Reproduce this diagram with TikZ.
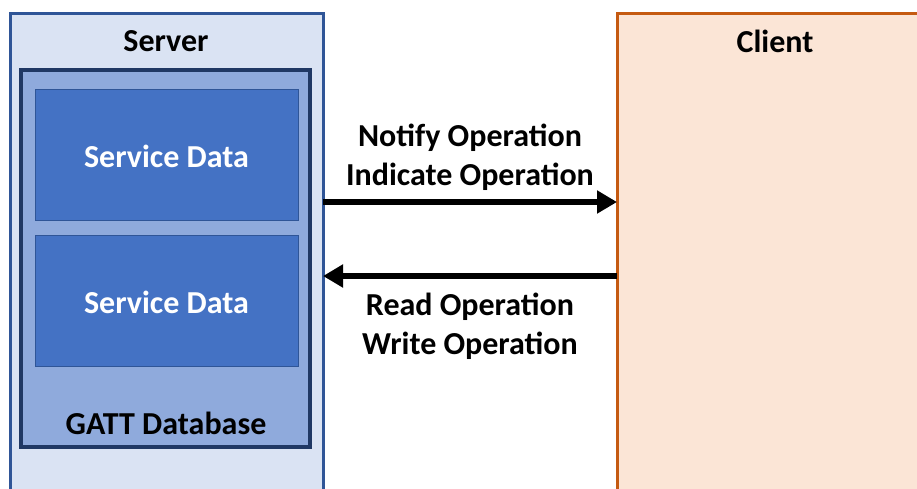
\documentclass[tikz,border=0pt]{standalone}
\usepackage{fontspec}
\setmainfont{Carlito}
\usepackage{xcolor}
\usetikzlibrary{positioning,arrows.meta}
\definecolor{srvfill}{HTML}{DAE3F3}
\definecolor{srvline}{HTML}{2F5597}
\definecolor{dbfill}{HTML}{8FAADC}
\definecolor{dbline}{HTML}{203864}
\definecolor{svcfill}{HTML}{4472C4}
\definecolor{clifill}{HTML}{FBE5D6}
\definecolor{cliline}{HTML}{C55A11}

\begin{document}
\begin{tikzpicture}[x=1pt,y=-1pt,font=\fontsize{32}{39}\selectfont\bfseries,
  box/.style={draw,anchor=north west,inner sep=0pt,outer sep=0pt},
  srv/.style={box,fill=srvfill,draw=srvline,line width=3pt},
  db/.style={box,fill=dbfill,draw=dbline,line width=3.5pt},
  svc/.style={box,fill=svcfill,draw=srvline,line width=1pt,text=white},
  cli/.style={box,fill=clifill,draw=cliline,line width=3pt},
  lbl/.style={align=center,inner sep=0pt},
  arr/.style={-{Triangle[length=20pt,width=22pt]},line width=6pt}]
  \useasboundingbox (0,0) rectangle (917,488);
  \clip (0,0) rectangle (917,488);
  \node[srv,minimum width=313,minimum height=500] (server) at (10,13) {};
  \node[cli,minimum width=320,minimum height=500] (client) at (617,13) {};
  \node[lbl] (srvname) at (166,41) {Server};
  \node[lbl] (cliname) at (775,41) {Client};
  \node[db,minimum width=289,minimum height=377] (gatt) at (21,70) {};
  \node[lbl] (gattname) at (166,423) {GATT Database};
  \node[svc,minimum width=263,minimum height=131] (svc1) at (35,89) {};
  \node[lbl,text=white] at ([yshift=-2pt]svc1.center) {Service Data};
  \node[svc,minimum width=263,minimum height=131] (svc2) at (35,235) {};
  \node[lbl,text=white] at ([yshift=-2pt]svc2.center) {Service Data};
  \coordinate (up) at (0,202);
  \coordinate (down) at (0,276);
  \draw[arr] (server.east |- up) -- (client.west |- up);
  \draw[arr] (client.west |- down) -- (server.east |- down);
  \node[lbl] (notify) at (470,157) {Notify Operation\\Indicate Operation};
  \node[lbl] (read) at (470,326) {Read Operation\\Write Operation};
\end{tikzpicture}
\end{document}
